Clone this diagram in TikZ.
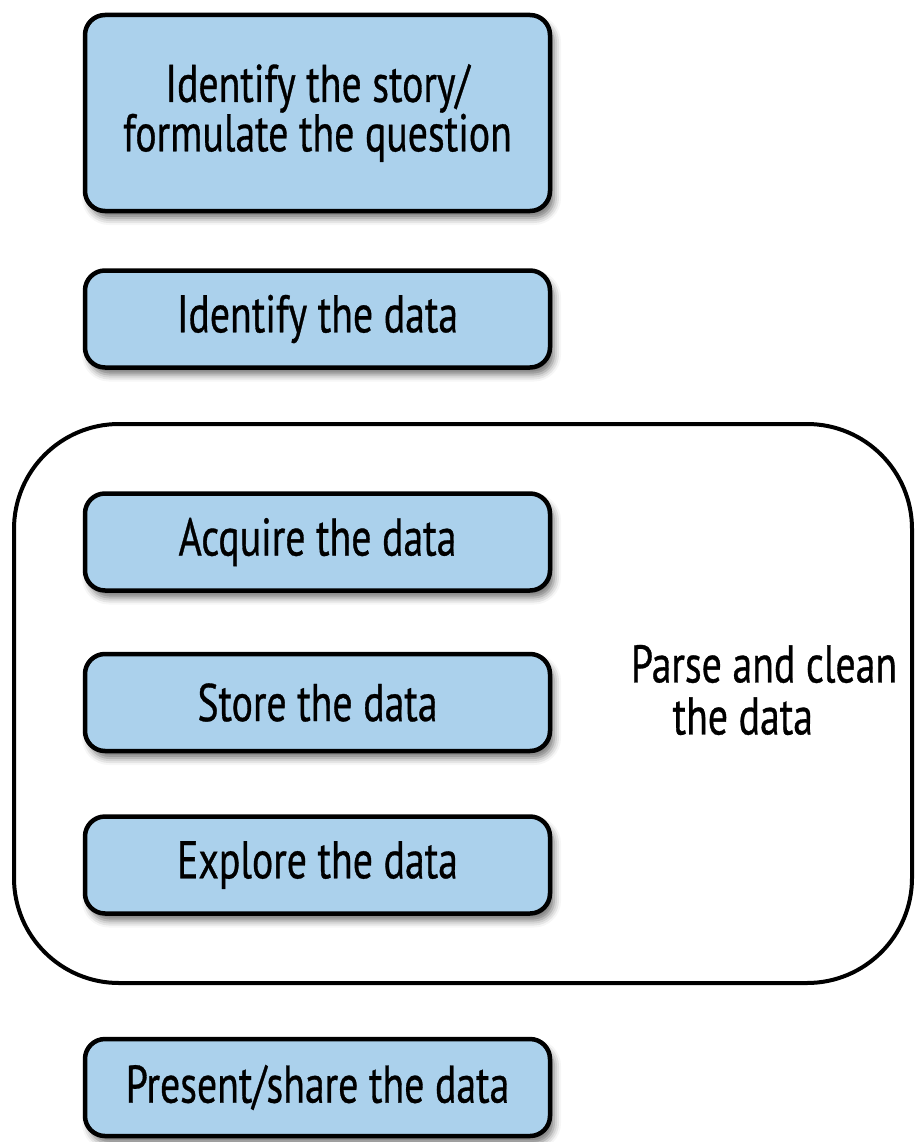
\documentclass[tikz,border=0pt]{standalone}
\usepackage{fontspec}
\setmainfont{PT Sans}[FakeStretch=0.75,FakeBold=0.6]
\usetikzlibrary{shadows.blur}
\definecolor{boxblue}{RGB}{171,209,236}
\begin{document}
\begin{tikzpicture}[x=1pt,y=-1pt,
  stepbox/.style={draw=black, line width=4.5pt, fill=boxblue, rounded corners=20pt,
    minimum width=465pt, minimum height=97pt, inner sep=0pt, align=center,
    font=\fontsize{53}{44}\selectfont,
    blur shadow={shadow xshift=4pt, shadow yshift=-7pt, shadow blur radius=7pt, shadow opacity=55}},
  groupbox/.style={draw=black, line width=4pt, rounded corners=105pt,
    minimum width=898pt, minimum height=559pt, inner sep=0pt},
  label/.style={align=center, font=\fontsize{53}{52}\selectfont}]
\useasboundingbox (0,0) rectangle (916,1142);
\node[groupbox] (group) at (463,703.5) {};
\node[stepbox, minimum height=196pt] (story) at (317.5,113) {Identify the story/\\formulate the question};
\node[stepbox] (identify) at (317.5,319) {Identify the data};
\node[stepbox] (acquire) at (317.5,542) {Acquire the data};
\node[stepbox] (store) at (317.5,702.5) {Store the data};
\node[stepbox] (explore) at (317.5,865) {Explore the data};
\node[stepbox] (present) at (317.5,1087.5) {Present/share the data};
\node[label] (parse) at (764,690) {Parse and clean\\the data\hspace*{0.8em}};
\end{tikzpicture}
\end{document}
